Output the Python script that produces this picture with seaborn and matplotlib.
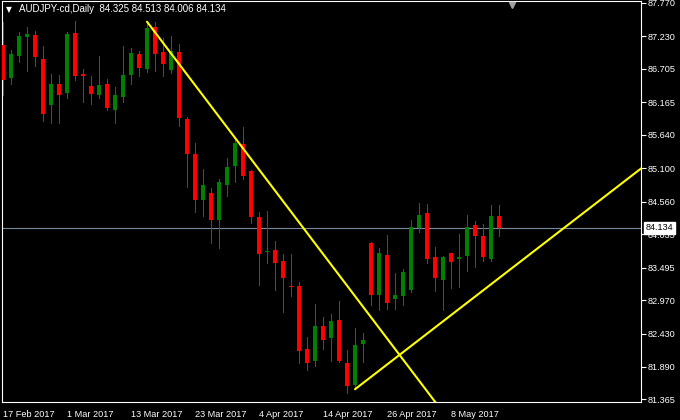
import matplotlib
matplotlib.use("Agg")
import matplotlib.pyplot as plt
import seaborn as sns
import pandas as pd
import numpy as np

# ---- data (AUDJPY daily) ----
opens = [87.092, 86.563, 86.919, 87.226, 87.253, 86.870, 86.127, 86.461, 86.321, 87.290,
         86.623, 86.434, 86.284, 86.461, 86.046, 86.256, 86.607, 86.946, 86.709, 87.382,
         86.978, 86.692, 86.978, 85.896, 85.331, 84.587, 84.701, 84.264, 84.830, 85.137,
         85.492, 85.056, 84.313, 83.747, 83.780, 83.602, 83.198, 83.198, 82.180, 81.991,
         82.552, 82.363, 82.649, 81.954, 81.599, 82.261, 83.893, 83.053, 83.699, 82.988,
         83.037, 83.133, 84.135, 84.377, 83.667, 83.295, 83.731, 83.634, 83.683, 84.184,
         84.006, 83.634, 84.325]
highs = [87.458, 87.011, 87.306, 87.382, 87.323, 87.075, 86.623, 86.607, 87.306, 87.479,
         86.704, 86.591, 86.914, 86.542, 86.413, 87.075, 87.038, 86.999, 87.468, 87.468,
         87.200, 87.237, 87.103, 85.928, 85.508, 85.088, 84.781, 84.927, 85.266, 85.573,
         85.767, 85.072, 84.394, 84.410, 83.925, 83.715, 83.715, 83.263, 82.374, 82.907,
         82.697, 82.746, 82.956, 82.164, 82.520, 82.439, 83.909, 83.812, 84.022, 83.408,
         83.473, 84.264, 84.539, 84.523, 83.828, 83.683, 83.731, 84.038, 84.345, 84.248,
         84.200, 84.507, 84.513]
lows = [86.284, 86.461, 86.822, 86.676, 86.752, 85.869, 85.836, 85.836, 86.240, 86.531,
        86.176, 86.143, 86.240, 86.041, 85.836, 86.176, 86.461, 86.591, 86.660, 86.676,
        86.591, 86.644, 85.783, 84.802, 84.394, 84.329, 83.893, 83.817, 84.652, 84.878,
        84.927, 84.216, 83.214, 83.575, 83.138, 82.783, 83.041, 81.959, 81.846, 81.911,
        82.180, 81.991, 81.970, 81.474, 81.571, 81.970, 82.891, 82.810, 82.827, 82.827,
        82.891, 83.101, 84.070, 83.570, 83.117, 82.810, 83.166, 83.182, 83.440, 83.505,
        83.602, 83.602, 84.006]
closes = [86.526, 86.946, 87.237, 87.269, 86.902, 85.977, 86.461, 86.289, 87.269, 86.591,
          86.591, 86.300, 86.445, 86.074, 86.284, 86.607, 86.967, 86.720, 87.366, 86.946,
          86.785, 86.995, 85.917, 85.331, 84.587, 84.830, 84.264, 84.878, 85.121, 85.508,
          84.975, 84.313, 83.720, 83.764, 83.575, 83.332, 83.182, 82.153, 81.959, 82.552,
          82.331, 82.633, 81.991, 81.588, 82.245, 82.326, 83.053, 83.731, 82.923, 83.053,
          83.424, 84.151, 84.345, 83.634, 83.327, 83.667, 83.586, 83.667, 84.151, 84.006,
          83.667, 84.329, 84.134]

dates = pd.bdate_range("2017-02-17", periods=len(opens))
y_ticks = [87.770, 87.230, 86.705, 86.165, 85.640, 85.100, 84.560, 84.035,
           83.495, 82.970, 82.430, 81.890, 81.365]
bid = 84.134
# trend lines: (bar index, price) anchor points
trend_down_x = [18, 54.3]
trend_down_y = [87.468, 81.278]
trend_up_x = [44, 79.75]
trend_up_y = [81.53, 85.096]
title = "AUDJPY-cd,Daily  84.325 84.513 84.006 84.134"

# ---- style ----
sns.set_style("dark", rc={"axes.facecolor": "black", "figure.facecolor": "black"})
plt.rcParams["font.family"] = ["Liberation Sans", "DejaVu Sans"]

W, H = 680, 420
fig = plt.figure(figsize=(W / 100, H / 100), dpi=100, facecolor="black")
ax = fig.add_axes([2 / W, (H - 402) / H, 639 / W, 401 / H])
ax.set_facecolor("black")

x = np.arange(len(opens))
o = np.array(opens); c = np.array(closes); hi = np.array(highs); lo = np.array(lows)
up = c >= o
cols = np.where(up, "#008000", "#ff0000")

ax.vlines(x, lo, hi, colors=cols, linewidth=0.72, antialiased=False, zorder=3)
body_bottom = np.minimum(o, c)
body_h = np.maximum(np.abs(c - o), 0.017)
ax.bar(x, body_h, bottom=body_bottom, width=0.62, color=cols, linewidth=0,
       antialiased=False, zorder=4)

ax.axhline(bid, color="#778899", linewidth=0.8, zorder=2)

sns.lineplot(x=trend_down_x, y=trend_down_y, ax=ax, color="#ffff00", linewidth=1.5,
             zorder=5, estimator=None, sort=False)
sns.lineplot(x=trend_up_x, y=trend_up_y, ax=ax, color="#ffff00", linewidth=1.5,
             zorder=5, estimator=None, sort=False)

ax.set_xlim((2 - 3) / 8, (641 - 3) / 8)
ax.set_ylim(87.770 - 399 / 61.9, 87.770 + 2 / 61.9)

for s in ax.spines.values():
    s.set_color("white")
    s.set_linewidth(0.8)
    s.set_visible(True)

ax.yaxis.tick_right()
ax.set_yticks(y_ticks)
ax.set_yticklabels([f"{v:.3f}" for v in y_ticks])
xt = list(range(0, len(opens), 8))
ax.set_xticks(xt)
ax.set_xticklabels([f"{dates[i].day} {dates[i].strftime('%b %Y')}" for i in xt], ha="left")
ax.tick_params(axis="both", colors="white", direction="out", length=3.5, width=0.8,
               labelsize=6.6, labelcolor="white")
ax.tick_params(axis="y", pad=1.5, left=False, right=True)
ax.tick_params(axis="x", pad=2)
ax.set_xlabel(""); ax.set_ylabel("")
ax.grid(False)

# chart-shift marker
ax.plot([(512 - 2) / 639], [1 - 4 / 401], marker="v", markersize=5, color="#a0a0a0",
        transform=ax.transAxes, clip_on=False, zorder=6)

# title
fig.text(6 / W, 1 - 9.5 / H, "\u25bc", color="white", fontsize=5.5, va="center", ha="left",
         family="DejaVu Sans")
fig.text(19 / W, 1 - 9.5 / H, title, color="white", fontsize=7, va="center", ha="left")

# bid price label (covers part of the 84.035 tick label, as in the terminal)
fig.text(646 / W, 1 - 228 / H, f"{bid:.3f}", color="black", fontsize=6.6, va="center",
         ha="left", zorder=10,
         bbox=dict(boxstyle="square,pad=0.2", facecolor="white", edgecolor="white"))

fig.savefig("out.png", dpi=100, facecolor="black")
